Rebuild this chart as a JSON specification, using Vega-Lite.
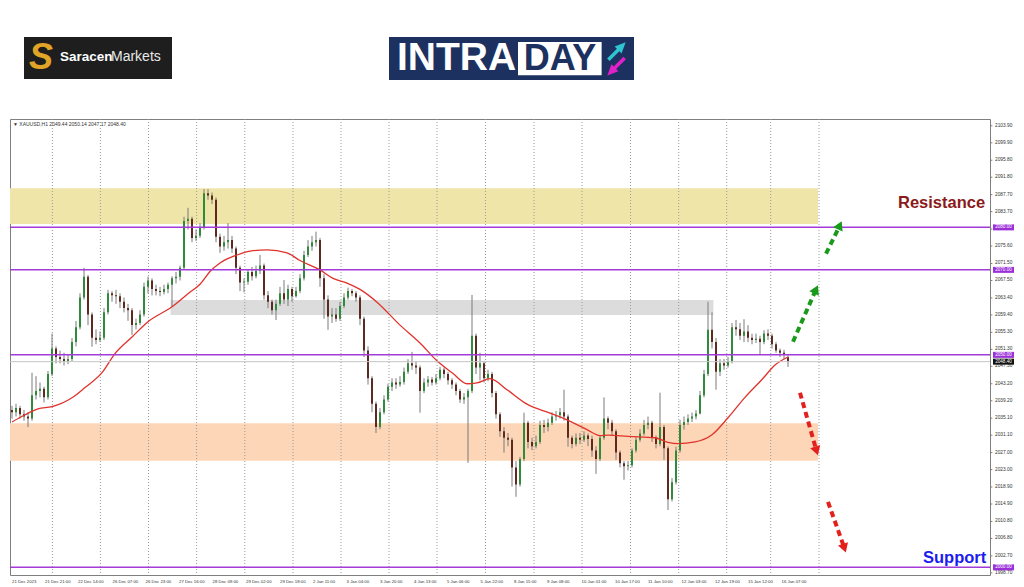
{
"$schema":"https://vega.github.io/schema/vega-lite/v6.json",
"width":980,"height":456,
"autosize":{"type":"none"},
"padding":{"left":10,"top":119,"right":34,"bottom":12},
"background":"#ffffff",
"config":{"view":{"stroke":"#7f7f7f","strokeWidth":1},"text":{"font":"Liberation Sans"}},
"resolve":{"scale":{"color":"independent"}},
"datasets":{
"zones":[{"zone":"resistance","t1":-1,"t2":403,"p1":2080.8,"p2":2089.2},{"zone":"support","t1":-1,"t2":403,"p1":2025.1,"p2":2033.9},{"zone":"supply","t1":79.3,"t2":350.7,"p1":2059.4,"p2":2062.9}],
"grid":[{"t":20.2},{"t":44.2},{"t":68.25},{"t":92.3},{"t":116.4},{"t":140.5},{"t":164.5},{"t":188.5},{"t":212.5},{"t":236.75},{"t":261},{"t":285},{"t":309.25},{"t":333.35},{"t":357.35},{"t":379.35},{"t":403.5}],
"candles":[
{"t":0,"o":2037,"h":2038,"l":2035,"c":2036.5},
{"t":2,"o":2036.5,"h":2038.5,"l":2035.5,"c":2037.5},
{"t":4,"o":2037.5,"h":2038,"l":2035,"c":2036},
{"t":6,"o":2036,"h":2037,"l":2034.5,"c":2035.5},
{"t":8,"o":2035.5,"h":2036.5,"l":2033,"c":2035},
{"t":10,"o":2035,"h":2045.8,"l":2034.5,"c":2040.5},
{"t":12,"o":2040.5,"h":2045,"l":2039.5,"c":2041.5},
{"t":14,"o":2041.5,"h":2043.5,"l":2040,"c":2042},
{"t":16,"o":2042,"h":2042.5,"l":2038.8,"c":2040},
{"t":18,"o":2040,"h":2046.2,"l":2039.5,"c":2045.5},
{"t":20,"o":2045.5,"h":2055,"l":2045,"c":2051.5},
{"t":22,"o":2051.5,"h":2052,"l":2048,"c":2049.5},
{"t":24,"o":2049.5,"h":2051,"l":2048,"c":2049},
{"t":26,"o":2049,"h":2050.5,"l":2047.5,"c":2048.5},
{"t":28,"o":2048.5,"h":2050,"l":2047.8,"c":2049},
{"t":30,"o":2049,"h":2054,"l":2048.5,"c":2053},
{"t":32,"o":2053,"h":2058,"l":2052,"c":2056.5},
{"t":34,"o":2056.5,"h":2064.5,"l":2056,"c":2063.5},
{"t":36,"o":2063.5,"h":2070.5,"l":2063,"c":2068.4},
{"t":38,"o":2068.4,"h":2068.8,"l":2057,"c":2059.5},
{"t":40,"o":2059.5,"h":2060,"l":2051.9,"c":2054},
{"t":42,"o":2054,"h":2056,"l":2052.5,"c":2053.5},
{"t":44,"o":2053.5,"h":2055.5,"l":2053,"c":2054},
{"t":46,"o":2054,"h":2061,"l":2053.5,"c":2060},
{"t":48,"o":2060,"h":2065.3,"l":2059.5,"c":2064.5},
{"t":50,"o":2064.5,"h":2065,"l":2062.5,"c":2064},
{"t":52,"o":2064,"h":2065.3,"l":2062,"c":2063.8},
{"t":54,"o":2063.8,"h":2064.5,"l":2061,"c":2062.5},
{"t":56,"o":2062.5,"h":2063.5,"l":2060,"c":2061},
{"t":58,"o":2061,"h":2062,"l":2058,"c":2060.5},
{"t":60,"o":2060.5,"h":2061,"l":2054.7,"c":2057},
{"t":62,"o":2057,"h":2058.5,"l":2056,"c":2057.5},
{"t":64,"o":2057.5,"h":2060.5,"l":2057,"c":2059.5},
{"t":66,"o":2059.5,"h":2067,"l":2059,"c":2066},
{"t":68,"o":2066,"h":2068.4,"l":2064.5,"c":2067.5},
{"t":70,"o":2067.5,"h":2068,"l":2064,"c":2065.5},
{"t":72,"o":2065.5,"h":2066.5,"l":2064,"c":2065},
{"t":74,"o":2065,"h":2066,"l":2063.8,"c":2064.8},
{"t":76,"o":2064.8,"h":2066.5,"l":2064.2,"c":2065.5},
{"t":78,"o":2065.5,"h":2067,"l":2064.5,"c":2066.5},
{"t":80,"o":2066.5,"h":2068.5,"l":2061.3,"c":2068},
{"t":82,"o":2068,"h":2069.5,"l":2066.8,"c":2068.4},
{"t":84,"o":2068.4,"h":2071,"l":2067.5,"c":2070.5},
{"t":86,"o":2070.5,"h":2082.5,"l":2070,"c":2081.5},
{"t":88,"o":2081.5,"h":2084.6,"l":2079.5,"c":2082},
{"t":90,"o":2082,"h":2082.5,"l":2076.5,"c":2077.5},
{"t":92,"o":2077.5,"h":2079.5,"l":2076.8,"c":2078},
{"t":94,"o":2078,"h":2081,"l":2077.5,"c":2080},
{"t":96,"o":2080,"h":2089,"l":2079.5,"c":2088},
{"t":98,"o":2088,"h":2089,"l":2086.5,"c":2087.5},
{"t":100,"o":2087.5,"h":2088.2,"l":2085.5,"c":2086.5},
{"t":102,"o":2086.5,"h":2087,"l":2076.5,"c":2077.8},
{"t":104,"o":2077.8,"h":2078.5,"l":2074,"c":2075.5},
{"t":106,"o":2075.5,"h":2078,"l":2074.5,"c":2076.5},
{"t":108,"o":2076.5,"h":2081,"l":2075,"c":2077},
{"t":110,"o":2077,"h":2078,"l":2074,"c":2075},
{"t":112,"o":2075,"h":2075.5,"l":2069,"c":2070.5},
{"t":114,"o":2070.5,"h":2071,"l":2065,"c":2067},
{"t":116,"o":2067,"h":2068,"l":2064.7,"c":2067.2},
{"t":118,"o":2067.2,"h":2070,"l":2066.5,"c":2069.5},
{"t":120,"o":2069.5,"h":2070.7,"l":2067.5,"c":2068.5},
{"t":122,"o":2068.5,"h":2071,"l":2068,"c":2069.8},
{"t":124,"o":2069.8,"h":2073.5,"l":2069,"c":2071},
{"t":126,"o":2071,"h":2071.5,"l":2063,"c":2064},
{"t":128,"o":2064,"h":2065,"l":2061,"c":2062.5},
{"t":130,"o":2062.5,"h":2063,"l":2059.5,"c":2060.5},
{"t":132,"o":2060.5,"h":2063,"l":2058.2,"c":2062},
{"t":134,"o":2062,"h":2066,"l":2061.5,"c":2064.5},
{"t":136,"o":2064.5,"h":2067.6,"l":2062,"c":2063},
{"t":138,"o":2063,"h":2066.5,"l":2061.5,"c":2065.5},
{"t":140,"o":2065.5,"h":2066,"l":2062.5,"c":2063.8},
{"t":142,"o":2063.8,"h":2066,"l":2063.5,"c":2065},
{"t":144,"o":2065,"h":2069,"l":2064.5,"c":2068},
{"t":146,"o":2068,"h":2074.5,"l":2067.5,"c":2073.5},
{"t":148,"o":2073.5,"h":2077,"l":2073,"c":2075.5},
{"t":150,"o":2075.5,"h":2078,"l":2074.5,"c":2076.5},
{"t":152,"o":2076.5,"h":2079,"l":2075.5,"c":2077},
{"t":154,"o":2077,"h":2077.5,"l":2066,"c":2068},
{"t":156,"o":2068,"h":2069,"l":2058.5,"c":2063},
{"t":158,"o":2063,"h":2064,"l":2055.9,"c":2059},
{"t":160,"o":2059,"h":2061,"l":2057.5,"c":2059.5},
{"t":162,"o":2059.5,"h":2061,"l":2057.8,"c":2058.5},
{"t":164,"o":2058.5,"h":2062.5,"l":2058,"c":2061.5},
{"t":166,"o":2061.5,"h":2064.5,"l":2061,"c":2063.5},
{"t":168,"o":2063.5,"h":2065.8,"l":2063,"c":2065},
{"t":170,"o":2065,"h":2065.5,"l":2063.8,"c":2064.5},
{"t":172,"o":2064.5,"h":2065,"l":2062.5,"c":2063.5},
{"t":174,"o":2063.5,"h":2064,"l":2057,"c":2058.5},
{"t":176,"o":2058.5,"h":2059,"l":2049.5,"c":2051},
{"t":178,"o":2051,"h":2052,"l":2043,"c":2044.5},
{"t":180,"o":2044.5,"h":2045,"l":2036.5,"c":2038.5},
{"t":182,"o":2038.5,"h":2039,"l":2031.6,"c":2033},
{"t":184,"o":2033,"h":2037.5,"l":2032.5,"c":2036.5},
{"t":186,"o":2036.5,"h":2040.5,"l":2036,"c":2039.5},
{"t":188,"o":2039.5,"h":2043.2,"l":2039,"c":2042.5},
{"t":190,"o":2042.5,"h":2044.5,"l":2041.5,"c":2043.5},
{"t":192,"o":2043.5,"h":2044.5,"l":2042,"c":2043},
{"t":194,"o":2043,"h":2045,"l":2042.5,"c":2043.6},
{"t":196,"o":2043.6,"h":2047,"l":2043,"c":2046},
{"t":198,"o":2046,"h":2049,"l":2045.5,"c":2048},
{"t":200,"o":2048,"h":2050.7,"l":2046.5,"c":2047.5},
{"t":202,"o":2047.5,"h":2048.5,"l":2045.5,"c":2047},
{"t":204,"o":2047,"h":2047.5,"l":2036.4,"c":2041.5},
{"t":206,"o":2041.5,"h":2044.5,"l":2041,"c":2043.5},
{"t":208,"o":2043.5,"h":2045,"l":2042.5,"c":2044.2},
{"t":210,"o":2044.2,"h":2044.8,"l":2042.8,"c":2043.5},
{"t":212,"o":2043.5,"h":2045.5,"l":2043,"c":2044.5},
{"t":214,"o":2044.5,"h":2047.2,"l":2044,"c":2046.5},
{"t":216,"o":2046.5,"h":2047,"l":2044.5,"c":2045.5},
{"t":218,"o":2045.5,"h":2046,"l":2043,"c":2044},
{"t":220,"o":2044,"h":2044.5,"l":2042,"c":2043},
{"t":222,"o":2043,"h":2043.5,"l":2040.5,"c":2041.5},
{"t":224,"o":2041.5,"h":2042,"l":2038.7,"c":2039.5},
{"t":226,"o":2039.5,"h":2041,"l":2038.5,"c":2040},
{"t":228,"o":2040,"h":2042,"l":2024.6,"c":2041.5},
{"t":230,"o":2041.5,"h":2064.1,"l":2041,"c":2054.5},
{"t":232,"o":2054.5,"h":2055,"l":2045.5,"c":2047},
{"t":234,"o":2047,"h":2050.5,"l":2044,"c":2048},
{"t":236,"o":2048,"h":2048.5,"l":2043.5,"c":2044.5},
{"t":238,"o":2044.5,"h":2046.5,"l":2043.8,"c":2045.5},
{"t":240,"o":2045.5,"h":2046,"l":2040,"c":2041},
{"t":242,"o":2041,"h":2041.5,"l":2035,"c":2036},
{"t":244,"o":2036,"h":2036.5,"l":2030.7,"c":2032},
{"t":246,"o":2032,"h":2033,"l":2027,"c":2030.5},
{"t":248,"o":2030.5,"h":2031.6,"l":2028.5,"c":2030},
{"t":250,"o":2030,"h":2030.5,"l":2019,"c":2023.5},
{"t":252,"o":2023.5,"h":2025,"l":2016.6,"c":2019.5},
{"t":254,"o":2019.5,"h":2026,"l":2019,"c":2025.5},
{"t":256,"o":2025.5,"h":2036.4,"l":2025,"c":2034},
{"t":258,"o":2034,"h":2034.5,"l":2028,"c":2029.5},
{"t":260,"o":2029.5,"h":2030.5,"l":2027.6,"c":2028.5},
{"t":262,"o":2028.5,"h":2031,"l":2028,"c":2029.5},
{"t":264,"o":2029.5,"h":2034.5,"l":2029,"c":2033.5},
{"t":266,"o":2033.5,"h":2034.7,"l":2031.6,"c":2033},
{"t":268,"o":2033,"h":2035,"l":2032,"c":2034},
{"t":270,"o":2034,"h":2036.5,"l":2033.5,"c":2035.5},
{"t":272,"o":2035.5,"h":2036.8,"l":2034.5,"c":2035.8},
{"t":274,"o":2035.8,"h":2037.5,"l":2035,"c":2036.5},
{"t":276,"o":2036.5,"h":2041.8,"l":2034.5,"c":2035.5},
{"t":278,"o":2035.5,"h":2036,"l":2028.4,"c":2030.5},
{"t":280,"o":2030.5,"h":2031,"l":2028,"c":2029},
{"t":282,"o":2029,"h":2031.5,"l":2028.5,"c":2030.5},
{"t":284,"o":2030.5,"h":2031.6,"l":2029,"c":2030},
{"t":286,"o":2030,"h":2032,"l":2029.5,"c":2031},
{"t":288,"o":2031,"h":2031.5,"l":2028.5,"c":2030.2},
{"t":290,"o":2030.2,"h":2031,"l":2026,"c":2027.5},
{"t":292,"o":2027.5,"h":2028.5,"l":2022,"c":2025.5},
{"t":294,"o":2025.5,"h":2031,"l":2025,"c":2030.5},
{"t":296,"o":2030.5,"h":2040,"l":2030,"c":2035},
{"t":298,"o":2035,"h":2035.5,"l":2032.5,"c":2034},
{"t":300,"o":2034,"h":2034.7,"l":2031,"c":2032},
{"t":302,"o":2032,"h":2032.5,"l":2025.3,"c":2027},
{"t":304,"o":2027,"h":2027.5,"l":2023.5,"c":2024.5},
{"t":306,"o":2024.5,"h":2025,"l":2020.6,"c":2023.8},
{"t":308,"o":2023.8,"h":2025,"l":2022.8,"c":2024},
{"t":310,"o":2024,"h":2028,"l":2023.5,"c":2027.5},
{"t":312,"o":2027.5,"h":2030.8,"l":2027,"c":2030},
{"t":314,"o":2030,"h":2032.5,"l":2029.5,"c":2031.5},
{"t":316,"o":2031.5,"h":2034.7,"l":2031,"c":2033.5},
{"t":318,"o":2033.5,"h":2035.5,"l":2032.5,"c":2034},
{"t":320,"o":2034,"h":2034.5,"l":2029.5,"c":2030.5},
{"t":322,"o":2030.5,"h":2031,"l":2028,"c":2029},
{"t":324,"o":2029,"h":2041.1,"l":2028.5,"c":2033},
{"t":326,"o":2033,"h":2033.5,"l":2025.3,"c":2028},
{"t":328,"o":2028,"h":2028.5,"l":2013.5,"c":2016},
{"t":330,"o":2016,"h":2021,"l":2015.5,"c":2020},
{"t":332,"o":2020,"h":2028.4,"l":2019.5,"c":2027.5},
{"t":334,"o":2027.5,"h":2034.7,"l":2027,"c":2033.5},
{"t":336,"o":2033.5,"h":2035.5,"l":2032.4,"c":2034.2},
{"t":338,"o":2034.2,"h":2036,"l":2033.5,"c":2035},
{"t":340,"o":2035,"h":2036.4,"l":2034.2,"c":2035.5},
{"t":342,"o":2035.5,"h":2037,"l":2034.8,"c":2036.2},
{"t":344,"o":2036.2,"h":2041.5,"l":2036,"c":2040.5},
{"t":346,"o":2040.5,"h":2046.5,"l":2040,"c":2045.5},
{"t":348,"o":2045.5,"h":2062.5,"l":2045,"c":2055.9},
{"t":350,"o":2055.9,"h":2060,"l":2051.5,"c":2053},
{"t":352,"o":2053,"h":2054,"l":2041.8,"c":2046},
{"t":354,"o":2046,"h":2049,"l":2045,"c":2048},
{"t":356,"o":2048,"h":2049,"l":2046.5,"c":2047.5},
{"t":358,"o":2047.5,"h":2049.5,"l":2047,"c":2048.5},
{"t":360,"o":2048.5,"h":2057.5,"l":2048,"c":2056.5},
{"t":362,"o":2056.5,"h":2058.2,"l":2054.5,"c":2056},
{"t":364,"o":2056,"h":2057.5,"l":2053.5,"c":2054.5},
{"t":366,"o":2054.5,"h":2058.4,"l":2053,"c":2055.5},
{"t":368,"o":2055.5,"h":2057,"l":2053,"c":2054},
{"t":370,"o":2054,"h":2055,"l":2052.5,"c":2053.5},
{"t":372,"o":2053.5,"h":2055,"l":2052.8,"c":2053.8},
{"t":374,"o":2053.8,"h":2054.5,"l":2050,"c":2053},
{"t":376,"o":2053,"h":2055.8,"l":2052.5,"c":2055},
{"t":378,"o":2055,"h":2056,"l":2053.5,"c":2054.5},
{"t":380,"o":2054.5,"h":2055,"l":2051.5,"c":2052.5},
{"t":382,"o":2052.5,"h":2053,"l":2050.5,"c":2051},
{"t":384,"o":2051,"h":2051.5,"l":2049.5,"c":2050.5},
{"t":386,"o":2050.5,"h":2051.2,"l":2049,"c":2050.2},
{"t":388,"o":2049.44,"h":2050.14,"l":2047.17,"c":2048.4}
],
"ma":[{"t":0,"ma":2034.2},{"t":6.5,"ma":2035.9},{"t":13,"ma":2037.3},{"t":20,"ma":2037.8},{"t":30,"ma":2039.9},{"t":36.5,"ma":2042.3},{"t":45,"ma":2045.8},{"t":51.5,"ma":2050.3},{"t":60,"ma":2054.2},{"t":68,"ma":2057.8},{"t":80,"ma":2061.3},{"t":88,"ma":2064.4},{"t":94,"ma":2066.6},{"t":99,"ma":2069.6},{"t":104,"ma":2071.6},{"t":112.5,"ma":2073.5},{"t":119,"ma":2074.4},{"t":127.5,"ma":2074.7},{"t":137.5,"ma":2074},{"t":144,"ma":2072.2},{"t":154,"ma":2070},{"t":160.5,"ma":2068},{"t":167.5,"ma":2066.9},{"t":174,"ma":2065.4},{"t":182.5,"ma":2062.4},{"t":194,"ma":2057},{"t":204,"ma":2052.8},{"t":212.5,"ma":2048.6},{"t":220.5,"ma":2045.6},{"t":227.5,"ma":2043.2},{"t":232.5,"ma":2043.4},{"t":239,"ma":2044.4},{"t":247.5,"ma":2041.8},{"t":257.5,"ma":2038.4},{"t":269,"ma":2036.3},{"t":277.5,"ma":2034.7},{"t":287.5,"ma":2032.4},{"t":294,"ma":2031},{"t":298,"ma":2031.1},{"t":308,"ma":2030.8},{"t":321.5,"ma":2030.5},{"t":328,"ma":2029.4},{"t":333,"ma":2029.1},{"t":341.5,"ma":2029.5},{"t":350,"ma":2031.2},{"t":358,"ma":2035.2},{"t":366.5,"ma":2040},{"t":375,"ma":2044.2},{"t":381.5,"ma":2047.6},{"t":388,"ma":2049.5}],
"levels":[{"p":2080,"label":"2080.00","kind":"level"},{"p":2070,"label":"2070.00","kind":"level"},{"p":2050,"label":"2050.00","kind":"level"},{"p":2000,"label":"2000.00","kind":"level"},{"p":2048.4,"label":"2048.40","kind":"bid"}],
"shafts":[{"id":"g1","dir":"up","t":390.5,"p":2053.1},{"id":"g1","dir":"up","t":401.4,"p":2064.75},{"id":"g2","dir":"up","t":407,"p":2073.8},{"id":"g2","dir":"up","t":413.25,"p":2079.8},{"id":"r1","dir":"down","t":394,"p":2041.1},{"id":"r1","dir":"down","t":401.9,"p":2028.0},{"id":"r2","dir":"down","t":408,"p":2015.4},{"id":"r2","dir":"down","t":415.7,"p":2005.2}],
"heads":[{"id":"g1","dir":"up","t":402,"p":2065.4},{"id":"g2","dir":"up","t":413.9,"p":2080.5},{"id":"r1","dir":"down","t":402.3,"p":2027.4},{"id":"r2","dir":"down","t":416.2,"p":2004.5}],
"dates":[{"t":0,"label":"21 Dec 2023"},{"t":16.5,"label":"21 Dec 21:00"},{"t":33,"label":"22 Dec 14:00"},{"t":50.3,"label":"26 Dec 07:00"},{"t":66.8,"label":"26 Dec 23:00"},{"t":83.5,"label":"27 Dec 16:00"},{"t":100.3,"label":"28 Dec 09:00"},{"t":117,"label":"29 Dec 02:00"},{"t":134,"label":"29 Dec 18:00"},{"t":150.5,"label":"2 Jan 11:00"},{"t":167.3,"label":"3 Jan 04:00"},{"t":184,"label":"3 Jan 20:00"},{"t":201,"label":"4 Jan 13:00"},{"t":217.5,"label":"5 Jan 06:00"},{"t":234.3,"label":"5 Jan 22:00"},{"t":251,"label":"8 Jan 15:00"},{"t":267.5,"label":"9 Jan 08:00"},{"t":284.8,"label":"10 Jan 01:00"},{"t":301.5,"label":"10 Jan 17:00"},{"t":318,"label":"11 Jan 10:00"},{"t":334.8,"label":"12 Jan 03:00"},{"t":351.5,"label":"12 Jan 19:00"},{"t":368,"label":"15 Jan 12:00"},{"t":384.8,"label":"16 Jan 07:00"}],
"prices":[{"p":2103.9},{"p":2099.9},{"p":2095.8},{"p":2091.8},{"p":2087.7},{"p":2083.7},{"p":2079.6},{"p":2075.6},{"p":2071.5},{"p":2067.5},{"p":2063.4},{"p":2059.4},{"p":2055.3},{"p":2051.3},{"p":2047.3},{"p":2043.2},{"p":2039.2},{"p":2035.1},{"p":2031.1},{"p":2027.0},{"p":2023.0},{"p":2018.9},{"p":2014.9},{"p":2010.8},{"p":2006.8},{"p":2002.7},{"p":1998.7}],
"notes":[{"id":"res","label":"Resistance","t":443,"p":2085.8},{"id":"sup","label":"Support","t":455.5,"p":2002.2},{"id":"hdr","label":"▼ XAUUSD,H1  2049.44 2050.14 2047.17 2048.40","t":0.5,"p":2104.35},{"id":"s","label":"S","t":14.5,"p":2119.9},{"id":"saracen","label":"Saracen","t":24,"p":2120.05},{"id":"markets","label":"Markets","t":49.5,"p":2120.05},{"id":"intra","label":"INTRA","t":192.5,"p":2119.8},{"id":"day","label":"DAY","t":274,"p":2119.7}],
"logos":[{"id":"sm","t1":6,"t2":80,"p1":2114.9,"p2":2124.8},{"id":"intraday","t1":188.5,"t2":311,"p1":2114.7,"p2":2124.8},{"id":"daybox","t1":253,"t2":294.8,"p1":2115.8,"p2":2123.6}],
"icons":[{"id":"up","t":302.5,"p":2121.5},{"id":"down","t":302,"p":2117.8}]
},
"layer":[
{"data":{"name":"zones"},"mark":{"type":"rect"},
 "encoding":{"x":{"field":"t1","type":"quantitative","scale":{"domain":[-1,489],"nice":false,"zero":false},"axis":null},"x2":{"field":"t2"},
 "y":{"field":"p1","type":"quantitative","scale":{"domain":[1998.2,2105.5],"nice":false,"zero":false},"axis":null},"y2":{"field":"p2"},
 "color":{"field":"zone","type":"nominal","scale":{"domain":["resistance","support","supply"],"range":["#efe5a8","#fcd6b6","#dcdcdc"]},"legend":null}}},
{"data":{"name":"grid"},"mark":{"type":"rule","color":"#9a9a9a","strokeWidth":1,"strokeDash":[1,2]},
 "encoding":{"x":{"field":"t","type":"quantitative","scale":{"domain":[-1,489],"nice":false,"zero":false},"axis":null}}},
{"data":{"name":"candles"},"mark":{"type":"rule","color":"#7a7a7a","strokeWidth":1},
 "encoding":{"x":{"field":"t","type":"quantitative","scale":{"domain":[-1,489],"nice":false,"zero":false},"axis":null},
 "y":{"field":"l","type":"quantitative","scale":{"domain":[1998.2,2105.5],"nice":false,"zero":false},"axis":null},"y2":{"field":"h"}}},
{"data":{"name":"candles"},"mark":{"type":"rule","strokeWidth":2,"strokeCap":"butt"},
 "encoding":{"x":{"field":"t","type":"quantitative","scale":{"domain":[-1,489],"nice":false,"zero":false},"axis":null},
 "y":{"field":"o","type":"quantitative","scale":{"domain":[1998.2,2105.5],"nice":false,"zero":false},"axis":null},
 "y2":{"field":"c"},
 "color":{"condition":{"test":"datum.c >= datum.o","value":"#2f8a3a"},"value":"#5e2a1f"}}},
{"data":{"name":"ma"},"mark":{"type":"line","color":"#e0322b","strokeWidth":1.3,"interpolate":"monotone"},
 "encoding":{"x":{"field":"t","type":"quantitative","scale":{"domain":[-1,489],"nice":false,"zero":false},"axis":null},
 "y":{"field":"ma","type":"quantitative","scale":{"domain":[1998.2,2105.5],"nice":false,"zero":false},"axis":null}}},
{"data":{"name":"levels"},"transform":[{"filter":"datum.kind === 'bid'"}],"mark":{"type":"rule","color":"#c4c4c4","strokeWidth":1},
 "encoding":{"y":{"field":"p","type":"quantitative","scale":{"domain":[1998.2,2105.5],"nice":false,"zero":false},"axis":null}}},
{"data":{"name":"levels"},"transform":[{"filter":"datum.kind === 'level'"}],"mark":{"type":"rule","color":"#a23bd8","strokeWidth":1.5},
 "encoding":{"y":{"field":"p","type":"quantitative","scale":{"domain":[1998.2,2105.5],"nice":false,"zero":false},"axis":null}}},
{"data":{"name":"prices"},"mark":{"type":"rule","color":"#808080","strokeWidth":1},
 "encoding":{"x":{"datum":489,"type":"quantitative","scale":{"domain":[-1,489],"nice":false,"zero":false},"axis":null},"x2":{"datum":490.2},
 "y":{"field":"p","type":"quantitative","scale":{"domain":[1998.2,2105.5],"nice":false,"zero":false},"axis":null}}},
{"data":{"name":"prices"},"mark":{"type":"text","align":"left","baseline":"middle","fontSize":4.8,"color":"#333333","font":"Liberation Sans"},
 "encoding":{"x":{"datum":491.5,"type":"quantitative","scale":{"domain":[-1,489],"nice":false,"zero":false},"axis":null},
 "y":{"field":"p","type":"quantitative","scale":{"domain":[1998.2,2105.5],"nice":false,"zero":false},"axis":null},
 "text":{"field":"p","type":"quantitative","format":".2f"}}},
{"data":{"name":"shafts"},"mark":{"type":"line","strokeWidth":4,"strokeDash":[6,4],"strokeCap":"butt"},
 "encoding":{"x":{"field":"t","type":"quantitative","scale":{"domain":[-1,489],"nice":false,"zero":false},"axis":null},
 "y":{"field":"p","type":"quantitative","scale":{"domain":[1998.2,2105.5],"nice":false,"zero":false},"axis":null},
 "detail":{"field":"id"},
 "color":{"field":"dir","type":"nominal","scale":{"domain":["up","down"],"range":["#1a9a1a","#e3211c"]},"legend":null}}},
{"data":{"name":"heads"},"transform":[{"filter":"datum.dir === 'up'"}],"mark":{"type":"point","shape":"triangle-up","filled":true,"size":110,"angle":25,"opacity":1,"color":"#1a9a1a"},
 "encoding":{"x":{"field":"t","type":"quantitative","scale":{"domain":[-1,489],"nice":false,"zero":false},"axis":null},
 "y":{"field":"p","type":"quantitative","scale":{"domain":[1998.2,2105.5],"nice":false,"zero":false},"axis":null}}},
{"data":{"name":"heads"},"transform":[{"filter":"datum.dir === 'down'"}],"mark":{"type":"point","shape":"triangle-up","filled":true,"size":110,"angle":162,"opacity":1,"color":"#e3211c"},
 "encoding":{"x":{"field":"t","type":"quantitative","scale":{"domain":[-1,489],"nice":false,"zero":false},"axis":null},
 "y":{"field":"p","type":"quantitative","scale":{"domain":[1998.2,2105.5],"nice":false,"zero":false},"axis":null}}},
{"data":{"name":"notes"},"transform":[{"filter":"datum.id === 'res'"}],"mark":{"type":"text","align":"left","baseline":"middle","fontSize":16.5,"fontWeight":"bold","color":"#8b1a1a","font":"Liberation Sans"},
 "encoding":{"x":{"field":"t","type":"quantitative","scale":{"domain":[-1,489],"nice":false,"zero":false},"axis":null},
 "y":{"field":"p","type":"quantitative","scale":{"domain":[1998.2,2105.5],"nice":false,"zero":false},"axis":null},"text":{"field":"label"}}},
{"data":{"name":"notes"},"transform":[{"filter":"datum.id === 'sup'"}],"mark":{"type":"text","align":"left","baseline":"middle","fontSize":16.5,"fontWeight":"bold","color":"#1c1cf0","font":"Liberation Sans"},
 "encoding":{"x":{"field":"t","type":"quantitative","scale":{"domain":[-1,489],"nice":false,"zero":false},"axis":null},
 "y":{"field":"p","type":"quantitative","scale":{"domain":[1998.2,2105.5],"nice":false,"zero":false},"axis":null},"text":{"field":"label"}}},
{"data":{"name":"notes"},"transform":[{"filter":"datum.id === 'hdr'"}],"mark":{"type":"text","align":"left","baseline":"middle","fontSize":5,"color":"#333333","font":"Liberation Sans"},
 "encoding":{"x":{"field":"t","type":"quantitative","scale":{"domain":[-1,489],"nice":false,"zero":false},"axis":null},
 "y":{"field":"p","type":"quantitative","scale":{"domain":[1998.2,2105.5],"nice":false,"zero":false},"axis":null},"text":{"field":"label"}}},
{"data":{"name":"dates"},"mark":{"type":"text","align":"left","baseline":"middle","fontSize":4.3,"color":"#333333","font":"Liberation Sans"},
 "encoding":{"x":{"field":"t","type":"quantitative","scale":{"domain":[-1,489],"nice":false,"zero":false},"axis":null},
 "y":{"datum":1996.5,"type":"quantitative","scale":{"domain":[1998.2,2105.5],"nice":false,"zero":false},"axis":null},"text":{"field":"label"}}},
{"data":{"name":"levels"},"mark":{"type":"rule","strokeWidth":6,"strokeCap":"butt"},
 "encoding":{"x":{"datum":490.5,"type":"quantitative","scale":{"domain":[-1,489],"nice":false,"zero":false},"axis":null},"x2":{"datum":501},
 "y":{"field":"p","type":"quantitative","scale":{"domain":[1998.2,2105.5],"nice":false,"zero":false},"axis":null},
 "color":{"field":"kind","type":"nominal","scale":{"domain":["level","bid"],"range":["#9b30d9","#111111"]},"legend":null}}},
{"data":{"name":"levels"},"mark":{"type":"text","align":"center","baseline":"middle","fontSize":4.6,"color":"#ffffff","font":"Liberation Sans"},
 "encoding":{"x":{"datum":495.75,"type":"quantitative","scale":{"domain":[-1,489],"nice":false,"zero":false},"axis":null},
 "y":{"field":"p","type":"quantitative","scale":{"domain":[1998.2,2105.5],"nice":false,"zero":false},"axis":null},"text":{"field":"label"}}},
{"data":{"name":"logos"},"mark":{"type":"rect"},
 "encoding":{"x":{"field":"t1","type":"quantitative","scale":{"domain":[-1,489],"nice":false,"zero":false},"axis":null},"x2":{"field":"t2"},
 "y":{"field":"p1","type":"quantitative","scale":{"domain":[1998.2,2105.5],"nice":false,"zero":false},"axis":null},"y2":{"field":"p2"},
 "color":{"field":"id","type":"nominal","scale":{"domain":["sm","intraday","daybox"],"range":["#1e1e1e","#1d3160","#ffffff"]},"legend":null}}},
{"data":{"name":"notes"},"transform":[{"filter":"datum.id === 's'"}],"mark":{"type":"text","align":"center","baseline":"middle","fontSize":36,"fontWeight":"bold","fontStyle":"italic","color":"#e0a526","font":"Liberation Sans"},
 "encoding":{"x":{"field":"t","type":"quantitative","scale":{"domain":[-1,489],"nice":false,"zero":false},"axis":null},
 "y":{"field":"p","type":"quantitative","scale":{"domain":[1998.2,2105.5],"nice":false,"zero":false},"axis":null},"text":{"field":"label"}}},
{"data":{"name":"notes"},"transform":[{"filter":"datum.id === 'saracen'"}],"mark":{"type":"text","align":"left","baseline":"middle","fontSize":13.5,"fontWeight":"bold","color":"#ffffff","font":"Liberation Sans"},
 "encoding":{"x":{"field":"t","type":"quantitative","scale":{"domain":[-1,489],"nice":false,"zero":false},"axis":null},
 "y":{"field":"p","type":"quantitative","scale":{"domain":[1998.2,2105.5],"nice":false,"zero":false},"axis":null},"text":{"field":"label"}}},
{"data":{"name":"notes"},"transform":[{"filter":"datum.id === 'markets'"}],"mark":{"type":"text","align":"left","baseline":"middle","fontSize":14,"color":"#e8e8e8","font":"Liberation Sans"},
 "encoding":{"x":{"field":"t","type":"quantitative","scale":{"domain":[-1,489],"nice":false,"zero":false},"axis":null},
 "y":{"field":"p","type":"quantitative","scale":{"domain":[1998.2,2105.5],"nice":false,"zero":false},"axis":null},"text":{"field":"label"}}},
{"data":{"name":"notes"},"transform":[{"filter":"datum.id === 'intra'"}],"mark":{"type":"text","align":"left","baseline":"middle","fontSize":39,"fontWeight":"bold","color":"#ffffff","font":"Liberation Sans"},
 "encoding":{"x":{"field":"t","type":"quantitative","scale":{"domain":[-1,489],"nice":false,"zero":false},"axis":null},
 "y":{"field":"p","type":"quantitative","scale":{"domain":[1998.2,2105.5],"nice":false,"zero":false},"axis":null},"text":{"field":"label"}}},
{"data":{"name":"notes"},"transform":[{"filter":"datum.id === 'day'"}],"mark":{"type":"text","align":"center","baseline":"middle","fontSize":36,"fontWeight":"bold","color":"#1d3160","font":"Liberation Sans"},
 "encoding":{"x":{"field":"t","type":"quantitative","scale":{"domain":[-1,489],"nice":false,"zero":false},"axis":null},
 "y":{"field":"p","type":"quantitative","scale":{"domain":[1998.2,2105.5],"nice":false,"zero":false},"axis":null},"text":{"field":"label"}}},
{"data":{"name":"icons"},"transform":[{"filter":"datum.id === 'up'"}],"mark":{"type":"point","shape":"arrow","filled":true,"size":600,"angle":45,"opacity":1,"color":"#2ec4d0"},
 "encoding":{"x":{"field":"t","type":"quantitative","scale":{"domain":[-1,489],"nice":false,"zero":false},"axis":null},
 "y":{"field":"p","type":"quantitative","scale":{"domain":[1998.2,2105.5],"nice":false,"zero":false},"axis":null}}},
{"data":{"name":"icons"},"transform":[{"filter":"datum.id === 'down'"}],"mark":{"type":"point","shape":"arrow","filled":true,"size":600,"angle":225,"opacity":1,"color":"#e020c8"},
 "encoding":{"x":{"field":"t","type":"quantitative","scale":{"domain":[-1,489],"nice":false,"zero":false},"axis":null},
 "y":{"field":"p","type":"quantitative","scale":{"domain":[1998.2,2105.5],"nice":false,"zero":false},"axis":null}}}
]
}
